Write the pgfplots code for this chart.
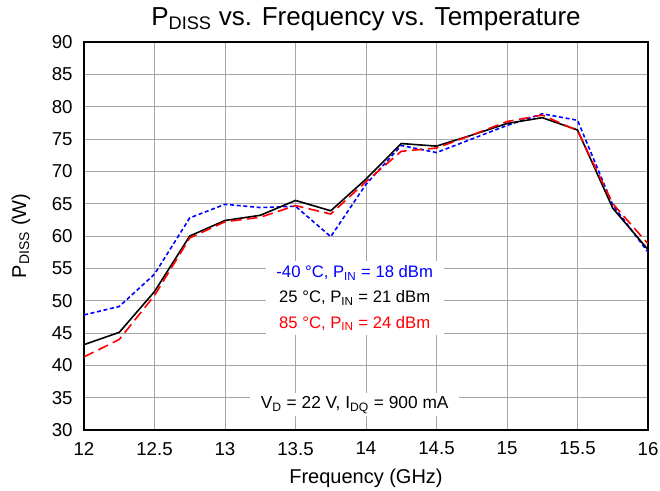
\documentclass[border=0pt]{standalone}
\usepackage{pgfplots}
\pgfplotsset{compat=1.18}
\usepackage{fontspec}
\setmainfont{Liberation Sans}
\begin{document}
\begin{tikzpicture}
\useasboundingbox (-63pt,-45pt) rectangle (432pt,322.5pt);
\begin{axis}[
  at={(0,0)}, anchor=south west,
  scale only axis, width=423pt, height=291pt,
  xmin=12, xmax=16, ymin=30, ymax=90,
  xtick={12,12.5,...,16}, ytick={30,35,...,90},
  grid=major, grid style={black!35, line width=0.6pt},
  axis line style={black, line width=0.9pt},
  tick style={draw=none},
  ticklabel style={font=\fontsize{14}{16}\selectfont},
  xticklabel style={yshift=-5.5pt},
  yticklabel style={xshift=-5pt},
  /pgf/number format/assume math mode=true,
  xlabel={Frequency (GHz)}, ylabel={P\textsubscript{DISS} (W)},
  xlabel style={at={(axis description cs:0.5,0)}, anchor=center, yshift=-36pt},
  ylabel style={at={(axis description cs:-0.112,0.5)}, anchor=center},
  label style={font=\fontsize{15}{18}\selectfont},
  title={P\textsubscript{DISS} vs. Frequency vs. Temperature},
  title style={font=\fontsize{19.5}{22}\selectfont, yshift=-1pt},
]
\addplot[blue, line width=1.2pt, dash pattern=on 3pt off 2pt] coordinates {
(12,47.8)(12.25,49.1)(12.5,54.1)(12.75,62.8)(13,64.9)(13.25,64.4)(13.5,64.6)(13.75,59.9)(14,68.0)(14.25,74.0)(14.5,72.9)(14.75,75.0)(15,77.1)(15.25,78.9)(15.5,77.9)(15.75,64.8)(16,57.5)};
\addplot[black, line width=1.2pt] coordinates {
(12,43.2)(12.25,45.1)(12.5,51.4)(12.75,60.0)(13,62.4)(13.25,63.2)(13.5,65.5)(13.75,63.9)(14,68.8)(14.25,74.3)(14.5,73.9)(14.75,75.6)(15,77.4)(15.25,78.3)(15.5,76.4)(15.75,64.3)(16,57.9)};
\addplot[red, line width=1.2pt, dash pattern=on 8pt off 4pt] coordinates {
(12,41.3)(12.25,44.0)(12.5,50.8)(12.75,59.7)(13,62.2)(13.25,62.9)(13.5,64.7)(13.75,63.4)(14,68.4)(14.25,73.1)(14.5,73.6)(14.75,75.6)(15,77.7)(15.25,78.7)(15.5,76.3)(15.75,65.0)(16,58.8)};
\node[fill=white, align=center, inner xsep=8pt, inner ysep=3pt, font=\fontsize{12.5}{19}\selectfont] at (axis cs:13.92,50.4)
  {\textcolor{blue}{-40 °C, P\textsubscript{IN} = 18 dBm}\\
   25 °C, P\textsubscript{IN} = 21 dBm\\
   \textcolor{red}{85 °C, P\textsubscript{IN} = 24 dBm}};
\node[fill=white, inner xsep=8pt, inner ysep=2pt, font=\fontsize{13}{15}\selectfont] at (axis cs:13.92,33.9)
  {V\textsubscript{D} = 22 V, I\textsubscript{DQ} = 900 mA};
\end{axis}
\end{tikzpicture}
\end{document}
